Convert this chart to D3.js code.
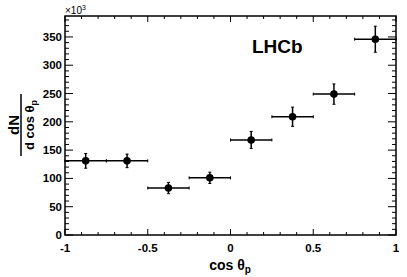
<!DOCTYPE html>
<html>
<head>
<meta charset="utf-8">
<script src="https://cdn.jsdelivr.net/npm/d3@7.9.0/dist/d3.min.js"></script>
<style>
  body { margin: 0; background: #fff; }
  text { font-family: "Liberation Sans", Arial, sans-serif; }
</style>
</head>
<body>
<svg id="chart" width="407" height="277"></svg>
<script>
// bin centres, half widths, yields (x10^3) and errors
const binCentres = [-0.875, -0.625, -0.375, -0.125, 0.125, 0.375, 0.625, 0.875];
const binHalfWidth = [0.125, 0.125, 0.125, 0.125, 0.125, 0.125, 0.125, 0.125];
const yields = [131, 131, 83, 101, 168, 209, 249, 346];
const yieldErr = [13, 12, 10, 10, 15, 17, 18, 23];
const xTicks = [-1, -0.5, 0, 0.5, 1];
const yTicks = [0, 50, 100, 150, 200, 250, 300, 350];

const m = { left: 65, right: 396, top: 16, bottom: 235 };
const svg = d3.select('#chart');

const x = d3.scaleLinear().domain([-1, 1]).range([m.left, m.right]);
const y = d3.scaleLinear().domain([0, 387]).range([m.bottom, m.top]);

const pts = binCentres.map((c, i) => ({ c, w: binHalfWidth[i], v: yields[i], e: yieldErr[i] }));

// frame
svg.append('rect')
  .attr('x', m.left).attr('y', m.top)
  .attr('width', m.right - m.left).attr('height', m.bottom - m.top)
  .attr('fill', 'none').attr('stroke', '#000').attr('stroke-width', 1.5);

// x ticks (bottom and top)
const xMinor = d3.range(-1, 1.0001, 0.1).map(d => +d.toFixed(2));
xMinor.forEach(t => {
  const major = xTicks.some(k => Math.abs(k - t) < 1e-6);
  const len = major ? 6 : 3;
  svg.append('line').attr('x1', x(t)).attr('x2', x(t))
    .attr('y1', m.bottom).attr('y2', m.bottom - len)
    .attr('stroke', '#000').attr('stroke-width', 1);
  svg.append('line').attr('x1', x(t)).attr('x2', x(t))
    .attr('y1', m.top).attr('y2', m.top + len)
    .attr('stroke', '#000').attr('stroke-width', 1);
});
xTicks.forEach(t => {
  svg.append('text').attr('x', x(t)).attr('y', 252)
    .attr('text-anchor', 'middle').attr('font-size', 11.5).attr('font-weight', 'bold')
    .text(t);
});

// y ticks (left and right)
d3.range(0, 381, 10).forEach(t => {
  const major = t % 50 === 0;
  const len = major ? 8 : 4;
  svg.append('line').attr('x1', m.left).attr('x2', m.left + len)
    .attr('y1', y(t)).attr('y2', y(t))
    .attr('stroke', '#000').attr('stroke-width', 1);
  svg.append('line').attr('x1', m.right).attr('x2', m.right - len)
    .attr('y1', y(t)).attr('y2', y(t))
    .attr('stroke', '#000').attr('stroke-width', 1);
});
yTicks.forEach(t => {
  svg.append('text').attr('x', 62).attr('y', y(t) + 4)
    .attr('text-anchor', 'end').attr('font-size', 11.5).attr('font-weight', 'bold')
    .text(t);
});

// x10^3
const exp = svg.append('text').attr('x', 65).attr('y', 14).attr('font-size', 10);
exp.append('tspan').text('×10');
exp.append('tspan').attr('font-size', 7).attr('dy', -4).text('3');

// data points
const g = svg.append('g').attr('stroke', '#000').attr('stroke-width', 1.5);
pts.forEach(p => {
  g.append('line').attr('x1', x(p.c - p.w)).attr('x2', x(p.c + p.w))
    .attr('y1', y(p.v)).attr('y2', y(p.v));
  g.append('line').attr('x1', x(p.c)).attr('x2', x(p.c))
    .attr('y1', y(p.v - p.e)).attr('y2', y(p.v + p.e));
  // small end marks
  [p.v - p.e, p.v + p.e].forEach(v => {
    g.append('line').attr('x1', x(p.c) - 1.5).attr('x2', x(p.c) + 1.5)
      .attr('y1', y(v)).attr('y2', y(v)).attr('stroke-width', 1);
  });
  [p.c - p.w, p.c + p.w].forEach(c => {
    g.append('line').attr('x1', x(c)).attr('x2', x(c))
      .attr('y1', y(p.v) - 1.5).attr('y2', y(p.v) + 1.5).attr('stroke-width', 1);
  });
  svg.append('circle').attr('cx', x(p.c)).attr('cy', y(p.v)).attr('r', 3.8).attr('fill', '#000');
});

// LHCb label
svg.append('text').attr('x', 252).attr('y', 53)
  .attr('font-size', 19).attr('font-weight', 'bold').text('LHCb');

// x title
const xt = svg.append('text').attr('x', 230).attr('y', 270)
  .attr('text-anchor', 'middle').attr('font-size', 14).attr('font-weight', 'bold');
xt.append('tspan').text('cos θ');
xt.append('tspan').attr('font-size', 10).attr('dy', 3).text('p');

// y title: fraction dN / d cos θp
const yg = svg.append('g').attr('transform', 'translate(0,125) rotate(-90)');
yg.append('text').attr('x', 0).attr('y', 19)
  .attr('text-anchor', 'middle').attr('font-size', 15).attr('font-weight', 'bold').text('dN');
yg.append('line').attr('x1', -31).attr('x2', 31).attr('y1', 21).attr('y2', 21)
  .attr('stroke', '#000').attr('stroke-width', 1.5);
const den = yg.append('text').attr('x', 0).attr('y', 33.5)
  .attr('text-anchor', 'middle').attr('font-size', 13).attr('font-weight', 'bold');
den.append('tspan').text('d cos θ');
den.append('tspan').attr('font-size', 9).attr('dy', 3).text('p');
</script>
</body>
</html>
